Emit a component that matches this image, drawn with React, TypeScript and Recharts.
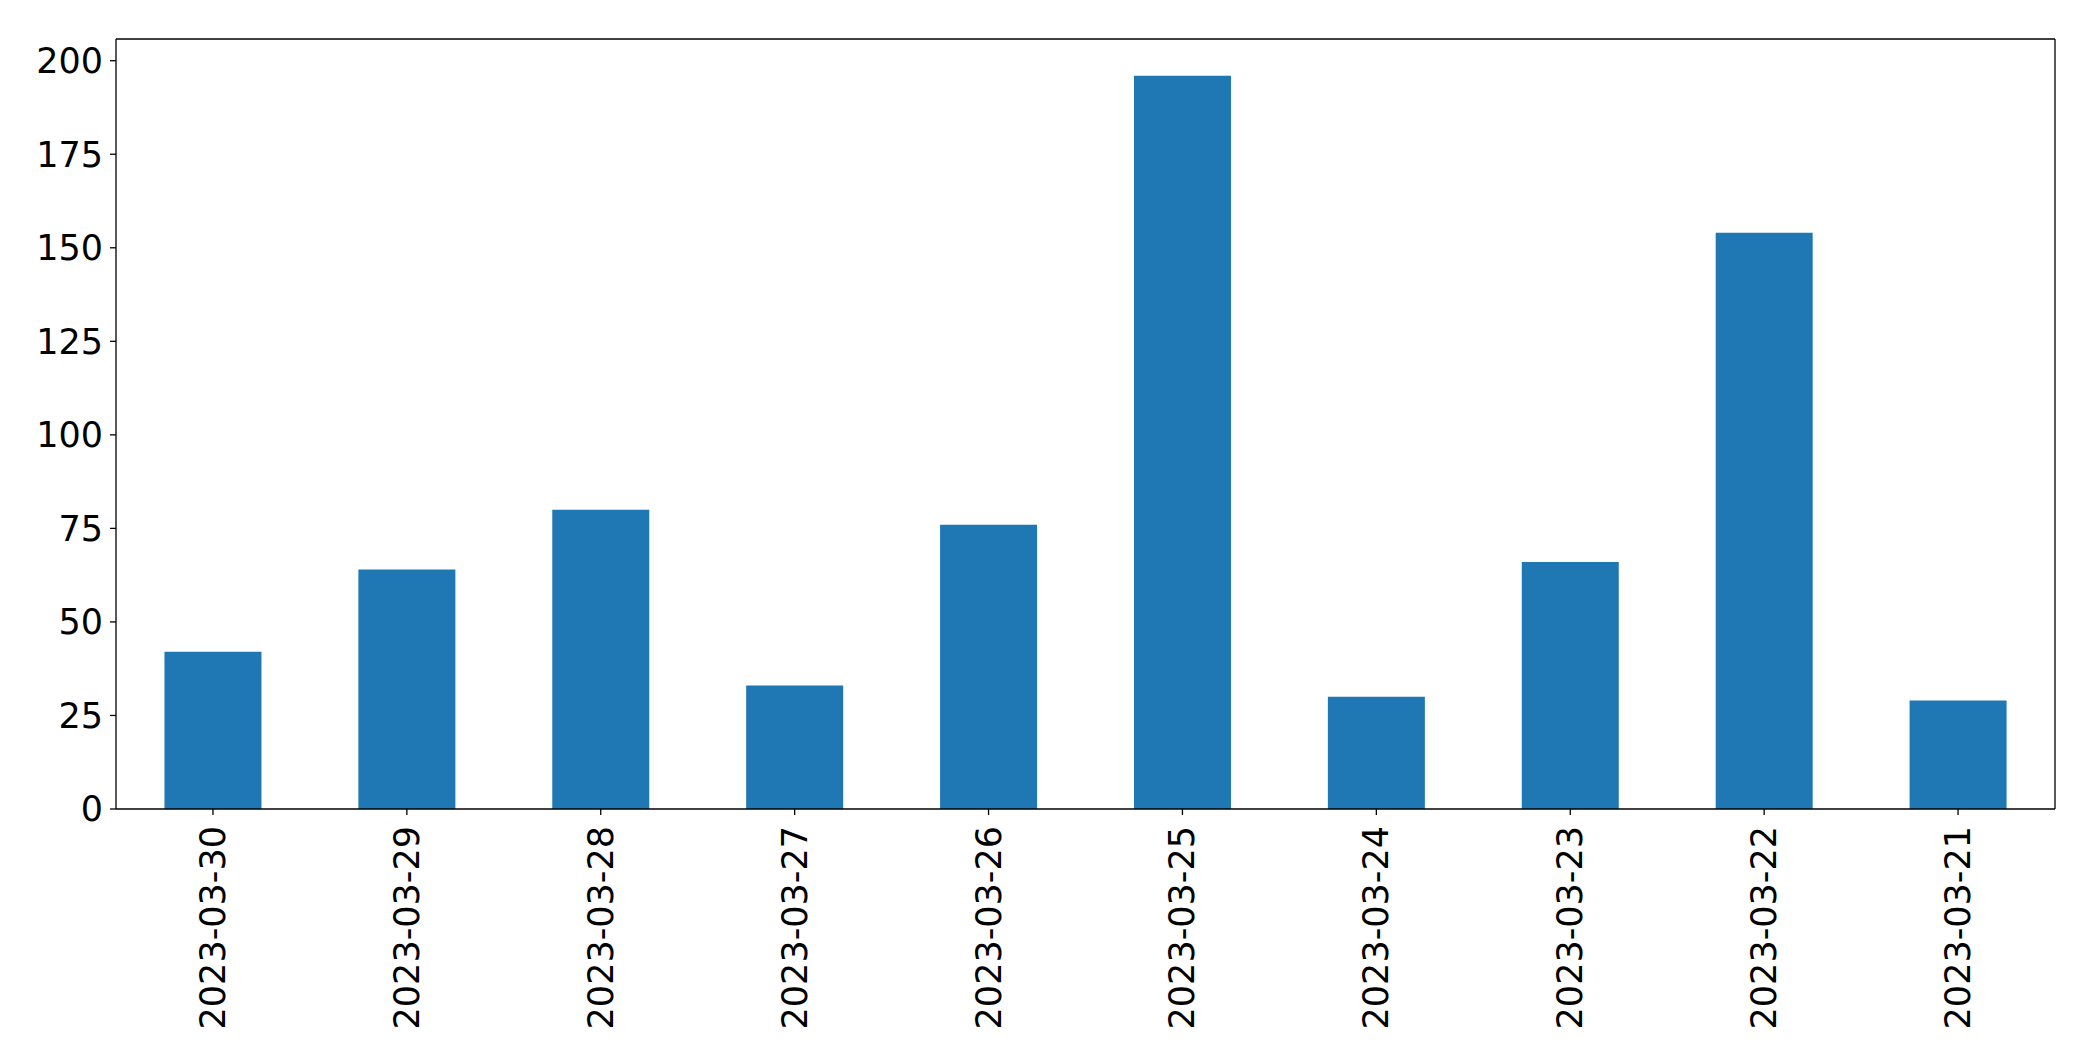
import React from 'react';
import { BarChart, Bar, XAxis, YAxis, CartesianGrid } from 'recharts';

// values
const dates = [
    '2023-03-30', '2023-03-29', '2023-03-28', '2023-03-27', '2023-03-26',
    '2023-03-25', '2023-03-24', '2023-03-23', '2023-03-22', '2023-03-21',
];
const counts = [42, 64, 80, 33, 76, 196, 30, 66, 154, 29];
const yTicks = [0, 25, 50, 75, 100, 125, 150, 175, 200];

const data = dates.map((d, i) => ({ date: d, count: counts[i] }));

const FONT = '"DejaVu Sans", sans-serif';
const FONT_SIZE = 35;

const DateTick = ({ x, y, payload }: any) => (
    <text
        x={x}
        y={y}
        transform={`rotate(-90, ${x}, ${y})`}
        textAnchor="end"
        dominantBaseline="central"
        fontFamily={FONT}
        fontSize={FONT_SIZE}
        fill="#000"
    >
        {payload.value}
    </text>
);

export default function App() {
    const axisLine = { stroke: '#000', strokeWidth: 1.3 };
    const tickLine = { stroke: '#000', strokeWidth: 1.3 };

    return (
        <div style={{ position: 'absolute', left: 0, top: 0, width: 2093, height: 1061, background: '#fff' }}>
            <BarChart
                width={2093}
                height={1061}
                data={data}
                margin={{ top: 39, right: 38, left: 0, bottom: 0 }}
                barCategoryGap="25%"
            >
                {/* top and right edges of the frame */}
                <CartesianGrid
                    stroke="#000"
                    strokeWidth={1.3}
                    strokeDasharray=""
                    horizontalCoordinatesGenerator={({ offset }: any) => [offset.top]}
                    verticalCoordinatesGenerator={({ offset }: any) => [offset.left + offset.width]}
                />
                <XAxis
                    dataKey="date"
                    height={252}
                    interval={0}
                    axisLine={axisLine}
                    tickLine={tickLine}
                    tickSize={6}
                    tickMargin={11}
                    tick={<DateTick />}
                />
                <YAxis
                    width={116}
                    domain={[0, 205.8]}
                    ticks={yTicks}
                    allowDataOverflow
                    axisLine={axisLine}
                    tickLine={tickLine}
                    tickSize={6}
                    tickMargin={7}
                    tick={{ fill: '#000', fontSize: FONT_SIZE, fontFamily: FONT }}
                />
                <Bar dataKey="count" fill="#1f77b4" isAnimationActive={false} />
            </BarChart>
        </div>
    );
}
